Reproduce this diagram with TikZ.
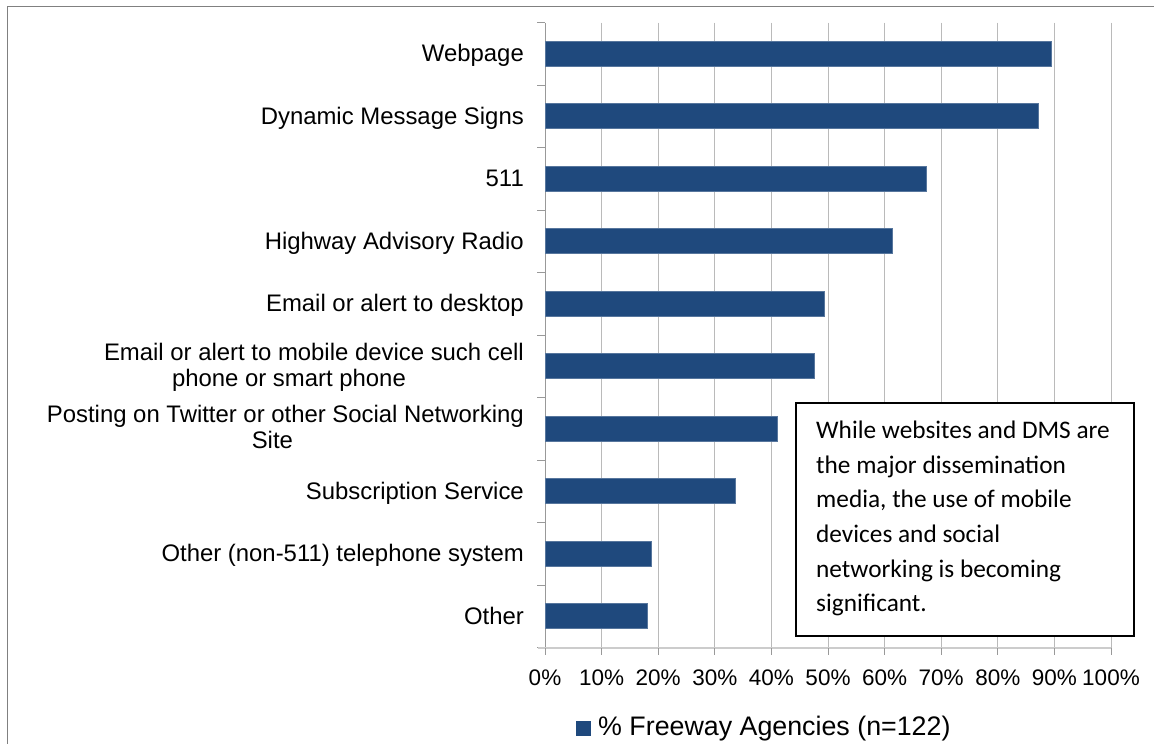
\documentclass[tikz,border=0pt]{standalone}
\usepackage{fontspec}
\setmainfont{Liberation Sans}
\newfontfamily\kastenschrift{Carlito}
\usetikzlibrary{positioning}
\definecolor{balkenblau}{RGB}{31,73,125}

\begin{document}
\begin{tikzpicture}[x=1pt,y=-1pt,
    balken/.style={
      fill=balkenblau,
      draw=balkenblau!75!white,
      line width=.6pt},
    gitter/.style={draw=black!27, line width=1pt},
    achse/.style={draw=black!40, line width=1pt},
    beschriftung/.style={
      anchor=base east,
      align=center,
      inner sep=0pt,
      font=\fontsize{23.9}{25.8}\selectfont},
    prozent/.style={anchor=base, inner sep=0pt, font=\fontsize{22.5}{26}\selectfont},
    kasten/.style={
      draw=black,
      fill=white,
      line width=1.8pt,
      inner sep=0pt}
    ]

  \useasboundingbox (0,0) rectangle (1154,744);
  \draw [black!50, line width=1.5pt] (7.5,760) -- (7.5,6.7) -- (1170,6.7);

  % gitter und achsen
  \foreach \p in {1,...,10}
    \draw [gitter] ({545+56.6*\p},22.7) -- ({545+56.6*\p},648);
  \foreach \k in {0,...,10}
    \draw [achse] (537,{22.7+62.5*\k}) -- (545,{22.7+62.5*\k});
  \draw [achse] (545,22.7) -- (545,648.3);
  \draw [draw=black!20, line width=2pt] (538,648.3) -- (1111,648.3);
  \foreach \p in {0,...,10}
    \draw [achse] ({545+56.6*\p},648.3) -- ({545+56.6*\p},655);

  % balken
  \foreach \wert [count=\i from 0] in {89.4,87.1,67.3,61.4,49.3,47.6,41.0,33.6,18.8,18.0}
    \filldraw [balken] (545,{22.7+62.5*\i+18.5}) rectangle ({545+5.66*\wert},{22.7+62.5*\i+43.5});

  \node at (524,61.6) (webseite) [beschriftung] {Webpage};
  \node at (524,124.1) (dms) [beschriftung] {Dynamic Message Signs};
  \node at (524,186.6) (fuenfelf) [beschriftung] {511};
  \node at (524,249.1) (radio) [beschriftung] {Highway Advisory Radio};
  \node at (524,311.6) (desktop) [beschriftung] {Email or alert to desktop};
  \node at (524,386.6) (mobil) [beschriftung] {Email or alert to mobile device such cell\\phone or smart phone\hspace*{50pt}};
  \node at (524,448.5) (twitter) [beschriftung] {Posting on Twitter or other Social Networking\\Site\hspace*{26pt}};
  \node at (524,499.1) (abo) [beschriftung] {Subscription Service};
  \node at (524,561.6) (telefon) [beschriftung] {Other (non-511) telephone system};
  \node at (524,624.1) (sonst) [beschriftung] {Other};

  \foreach \p in {0,...,10}{
    \pgfmathtruncatemacro\pz{10*\p}
    \node at ({545+56.6*\p},685) (p\p) [prozent] {\pz\%};
  }

  \node at (795,402) (kasten) [kasten, anchor=north west, minimum width=338, minimum height=233] {};
  \node at (816,421) (kastentext) [anchor=north west, inner sep=0pt, align=left,
    font=\kastenschrift\fontsize{25.3}{34.6}\selectfont]
    {While websites and DMS are\\the major dissemination\\media, the use of mobile\\devices and social\\networking is becoming\\significant.};

  \node at (583.3,728.3) (legendenfeld) [fill=balkenblau, minimum size=15, inner sep=0pt] {};
  \node [right=7 of legendenfeld, inner sep=0pt, font=\fontsize{26.8}{30}\selectfont] (legende) {\% Freeway Agencies (n=122)};

\end{tikzpicture}
\end{document}
